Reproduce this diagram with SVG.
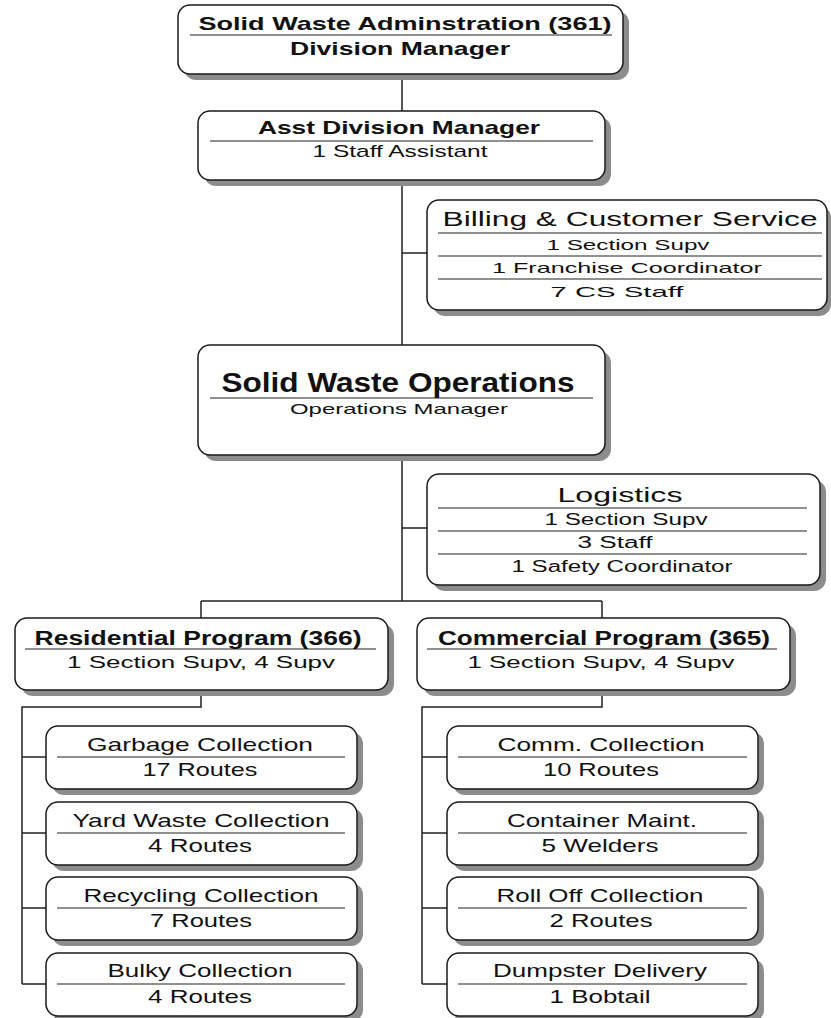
<svg xmlns="http://www.w3.org/2000/svg" width="831" height="1018" viewBox="0 0 831 1018">
<defs>
<style>
.bg{fill:#ffffff}
.sh{fill:#8c8c8c}
.bx{fill:#ffffff;stroke:#1a1a1a;stroke-width:1.5}
.dv{stroke:#222222;stroke-width:1.2;fill:none}
.cn{stroke:#222222;stroke-width:1.5;fill:none}
text{font-family:"Liberation Sans",Arial,sans-serif;fill:#111111;text-anchor:middle}
.b{font-weight:bold}
.t19{font-size:19px}
.t18{font-size:18px}
.t17{font-size:17px}
.t16{font-size:16px}
.t15{font-size:15px}
.t20{font-size:20px}
.t27{font-size:27px}
</style>
</defs>
<rect class="bg" x="0" y="0" width="831" height="1018"/>
<g id="connectors">
<path class="cn" d="M402 74 V345"/>
<path class="cn" d="M402 253 H427"/>
<path class="cn" d="M402 455 V601"/>
<path class="cn" d="M402 528 H427"/>
<path class="cn" d="M201 601 H602 M201 601 V618 M602 601 V618"/>
<path class="cn" d="M201 690 V707 H22 V984 M22 757 H46 M22 833 H46 M22 908 H46 M22 984 H46"/>
<path class="cn" d="M602 690 V707 H422 V984 M422 757 H447 M422 833 H447 M422 908 H447 M422 984 H447"/>
</g>
<g id="admin">
<rect class="sh" x="184" y="11" width="445" height="69" rx="12"/>
<rect class="bx" x="178" y="5" width="445" height="69" rx="12"/>
<line class="dv" x1="190" y1="35" x2="612" y2="35"/>
<text class="b t19" x="405" y="30" textLength="413" lengthAdjust="spacingAndGlyphs">Solid Waste Adminstration (361)</text>
<text class="b t19" x="400" y="55" textLength="220" lengthAdjust="spacingAndGlyphs">Division Manager</text>
</g>
<g id="asst">
<rect class="sh" x="204" y="117" width="407" height="69" rx="12"/>
<rect class="bx" x="198" y="111" width="407" height="69" rx="12"/>
<line class="dv" x1="210" y1="141" x2="593" y2="141"/>
<text class="b t19" x="399" y="134" textLength="282" lengthAdjust="spacingAndGlyphs">Asst Division Manager</text>
<text class="t17" x="400" y="157" textLength="175" lengthAdjust="spacingAndGlyphs">1 Staff Assistant</text>
</g>
<g id="billing">
<rect class="sh" x="433" y="206" width="398" height="110" rx="12"/>
<rect class="bx" x="427" y="200" width="400" height="110" rx="12"/>
<line class="dv" x1="438" y1="233" x2="822" y2="233"/>
<line class="dv" x1="438" y1="256" x2="822" y2="256"/>
<line class="dv" x1="438" y1="279" x2="822" y2="279"/>
<text class="t20" x="630" y="226" textLength="375" lengthAdjust="spacingAndGlyphs">Billing &amp; Customer Service</text>
<text class="t15" x="628" y="250" textLength="163" lengthAdjust="spacingAndGlyphs">1 Section Supv</text>
<text class="t15" x="627" y="273" textLength="270" lengthAdjust="spacingAndGlyphs">1 Franchise Coordinator</text>
<text class="t15" x="617" y="297" textLength="133" lengthAdjust="spacingAndGlyphs">7 CS Staff</text>
</g>
<g id="operations">
<rect class="sh" x="204" y="351" width="407" height="110" rx="12"/>
<rect class="bx" x="198" y="345" width="407" height="110" rx="12"/>
<line class="dv" x1="210" y1="398" x2="593" y2="398"/>
<text class="b t27" x="398" y="392" textLength="353" lengthAdjust="spacingAndGlyphs">Solid Waste Operations</text>
<text class="t15" x="399" y="414" textLength="218" lengthAdjust="spacingAndGlyphs">Operations Manager</text>
</g>
<g id="logistics">
<rect class="sh" x="433" y="480" width="393" height="111" rx="12"/>
<rect class="bx" x="427" y="474" width="393" height="111" rx="12"/>
<line class="dv" x1="438" y1="508" x2="807" y2="508"/>
<line class="dv" x1="438" y1="531" x2="807" y2="531"/>
<line class="dv" x1="438" y1="554" x2="807" y2="554"/>
<text class="t20" x="620" y="502" textLength="125" lengthAdjust="spacingAndGlyphs">Logistics</text>
<text class="t16" x="626" y="525" textLength="163" lengthAdjust="spacingAndGlyphs">1 Section Supv</text>
<text class="t16" x="615" y="548" textLength="75" lengthAdjust="spacingAndGlyphs">3 Staff</text>
<text class="t16" x="622" y="572" textLength="221" lengthAdjust="spacingAndGlyphs">1 Safety Coordinator</text>
</g>
<g id="residential">
<rect class="sh" x="21" y="624" width="373" height="72" rx="12"/>
<rect class="bx" x="15" y="618" width="373" height="72" rx="12"/>
<line class="dv" x1="25" y1="649" x2="376" y2="649"/>
<text class="b t20" x="198" y="645" textLength="327" lengthAdjust="spacingAndGlyphs">Residential Program (366)</text>
<text class="t16" x="201" y="668" textLength="268" lengthAdjust="spacingAndGlyphs">1 Section Supv, 4 Supv</text>
</g>
<g id="commercial">
<rect class="sh" x="423" y="624" width="373" height="72" rx="12"/>
<rect class="bx" x="417" y="618" width="373" height="72" rx="12"/>
<line class="dv" x1="427" y1="649" x2="777" y2="649"/>
<text class="b t20" x="604" y="645" textLength="332" lengthAdjust="spacingAndGlyphs">Commercial Program (365)</text>
<text class="t16" x="601" y="668" textLength="267" lengthAdjust="spacingAndGlyphs">1 Section Supv, 4 Supv</text>
</g>
<g id="garbage">
<rect class="sh" x="52" y="732" width="311" height="63" rx="12"/>
<rect class="bx" x="46" y="726" width="311" height="63" rx="12"/>
<line class="dv" x1="57" y1="757" x2="345" y2="757"/>
<text class="t19" x="200" y="751" textLength="226" lengthAdjust="spacingAndGlyphs">Garbage Collection</text>
<text class="t19" x="200" y="776" textLength="115" lengthAdjust="spacingAndGlyphs">17 Routes</text>
</g>
<g id="yardwaste">
<rect class="sh" x="52" y="808" width="311" height="63" rx="12"/>
<rect class="bx" x="46" y="802" width="311" height="63" rx="12"/>
<line class="dv" x1="57" y1="833" x2="345" y2="833"/>
<text class="t19" x="201" y="827" textLength="257" lengthAdjust="spacingAndGlyphs">Yard Waste Collection</text>
<text class="t19" x="200" y="852" textLength="104" lengthAdjust="spacingAndGlyphs">4 Routes</text>
</g>
<g id="recycling">
<rect class="sh" x="52" y="883" width="311" height="63" rx="12"/>
<rect class="bx" x="46" y="877" width="311" height="63" rx="12"/>
<line class="dv" x1="57" y1="908" x2="345" y2="908"/>
<text class="t19" x="201" y="902" textLength="235" lengthAdjust="spacingAndGlyphs">Recycling Collection</text>
<text class="t19" x="201" y="927" textLength="102" lengthAdjust="spacingAndGlyphs">7 Routes</text>
</g>
<g id="bulky">
<rect class="sh" x="52" y="959" width="311" height="63" rx="12"/>
<rect class="bx" x="46" y="953" width="311" height="63" rx="12"/>
<line class="dv" x1="57" y1="984" x2="345" y2="984"/>
<text class="t19" x="200" y="977" textLength="185" lengthAdjust="spacingAndGlyphs">Bulky Collection</text>
<text class="t19" x="200" y="1003" textLength="104" lengthAdjust="spacingAndGlyphs">4 Routes</text>
</g>
<g id="commcollection">
<rect class="sh" x="453" y="732" width="311" height="63" rx="12"/>
<rect class="bx" x="447" y="726" width="311" height="63" rx="12"/>
<line class="dv" x1="458" y1="757" x2="747" y2="757"/>
<text class="t19" x="601" y="751" textLength="207" lengthAdjust="spacingAndGlyphs">Comm. Collection</text>
<text class="t19" x="601" y="776" textLength="116" lengthAdjust="spacingAndGlyphs">10 Routes</text>
</g>
<g id="container">
<rect class="sh" x="453" y="808" width="311" height="63" rx="12"/>
<rect class="bx" x="447" y="802" width="311" height="63" rx="12"/>
<line class="dv" x1="458" y1="833" x2="747" y2="833"/>
<text class="t19" x="602" y="827" textLength="190" lengthAdjust="spacingAndGlyphs">Container Maint.</text>
<text class="t19" x="600" y="852" textLength="117" lengthAdjust="spacingAndGlyphs">5 Welders</text>
</g>
<g id="rolloff">
<rect class="sh" x="453" y="883" width="311" height="63" rx="12"/>
<rect class="bx" x="447" y="877" width="311" height="63" rx="12"/>
<line class="dv" x1="458" y1="908" x2="747" y2="908"/>
<text class="t19" x="600" y="902" textLength="207" lengthAdjust="spacingAndGlyphs">Roll Off Collection</text>
<text class="t19" x="601" y="927" textLength="103" lengthAdjust="spacingAndGlyphs">2 Routes</text>
</g>
<g id="dumpster">
<rect class="sh" x="453" y="959" width="311" height="63" rx="12"/>
<rect class="bx" x="447" y="953" width="311" height="63" rx="12"/>
<line class="dv" x1="458" y1="984" x2="747" y2="984"/>
<text class="t19" x="600" y="977" textLength="214" lengthAdjust="spacingAndGlyphs">Dumpster Delivery</text>
<text class="t19" x="600" y="1003" textLength="101" lengthAdjust="spacingAndGlyphs">1 Bobtail</text>
</g>
</svg>
